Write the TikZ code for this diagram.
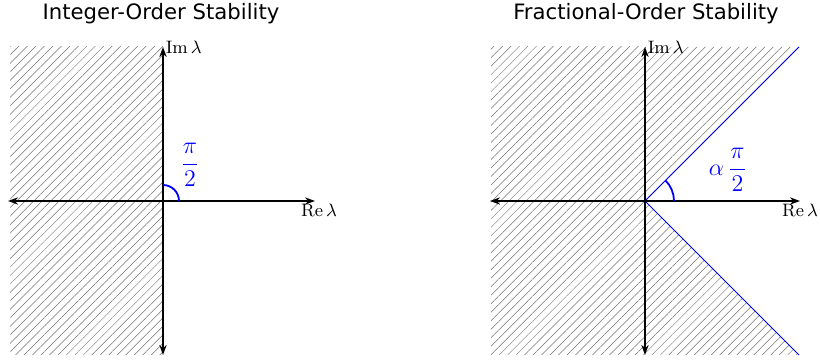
\documentclass[tikz,border=0pt]{standalone}
\usepackage{amsmath,amssymb}
\usepackage{fontspec}
\newfontfamily\titlefont{DejaVu Sans}
\usetikzlibrary{arrows.meta,patterns.meta}
\tikzset{>={Stealth[length=5pt,width=3.6pt]}}
\tikzset{
  axis/.style={<->, line width=0.75pt},
  hatch/.style={pattern={Lines[angle=45,distance=3pt,line width=0.25pt]}, pattern color=black!55},
  boundary/.style={blue, line width=0.45pt},
  anglearc/.style={blue, line width=0.9pt},
  title/.style={font=\titlefont\fontsize{10.6}{12}\selectfont},
  axlabel/.style={font=\fontsize{9}{11}\selectfont, inner sep=1pt},
  anglelabel/.style={text=blue, font=\fontsize{12.5}{14}\selectfont}
}

\begin{document}
\begin{tikzpicture}[x=0.5pt, y=0.5pt]
            \useasboundingbox (0,0) rectangle (820,362);
            % Integer-order panel
            \coordinate (oA) at (163,161);
            \coordinate (westA) at (8,161);
            \coordinate (eastA) at (315,161);
            \coordinate (southA) at (163,7);
            \coordinate (northA) at (163,315);
            \fill[hatch] (10,7) rectangle (oA |- northA);
            \draw[axis] (westA) -- (eastA) node[axlabel, below, xshift=2pt] (reA) {$\operatorname{Re}\lambda$};
            \draw[axis] (southA) -- (northA) node[axlabel, right] (imA) {$\operatorname{Im}\lambda$};
            \draw[anglearc] ([xshift=8pt]oA) arc[start angle=0, end angle=90, radius=8pt];
            \node[anglelabel] (piA) at (190,197) {$\displaystyle\frac{\pi}{2}$};
            \node[title] (titleA) at (161,348) {Integer-Order Stability};
            % Fractional-order panel
            \coordinate (oB) at (645,161);
            \coordinate (westB) at (490,161);
            \coordinate (eastB) at (800,161);
            \coordinate (southB) at (645,7);
            \coordinate (northB) at (645,315);
            \coordinate (upB) at (799,315);
            \coordinate (downB) at (799,7);
            \fill[hatch] (491,7) rectangle (oB |- northB);
            \fill[hatch] (oB) -- (upB) -- (oB |- upB) -- cycle;
            \fill[hatch] (oB) -- (downB) -- (oB |- downB) -- cycle;
            \draw[boundary] (oB) -- (upB);
            \draw[boundary] (oB) -- (downB);
            \draw[axis] (westB) -- (eastB) node[axlabel, below] (reB) {$\operatorname{Re}\lambda$};
            \draw[axis] (southB) -- (northB) node[axlabel, right] (imB) {$\operatorname{Im}\lambda$};
            \draw[anglearc] ([xshift=14.5pt]oB) arc[start angle=0, end angle=45, radius=14.5pt];
            \node[anglelabel] (alphaB) at (728,192) {$\displaystyle\alpha\,\frac{\pi}{2}$};
            \node[title] (titleB) at (646,348) {Fractional-Order Stability};
        \end{tikzpicture}
\end{document}
